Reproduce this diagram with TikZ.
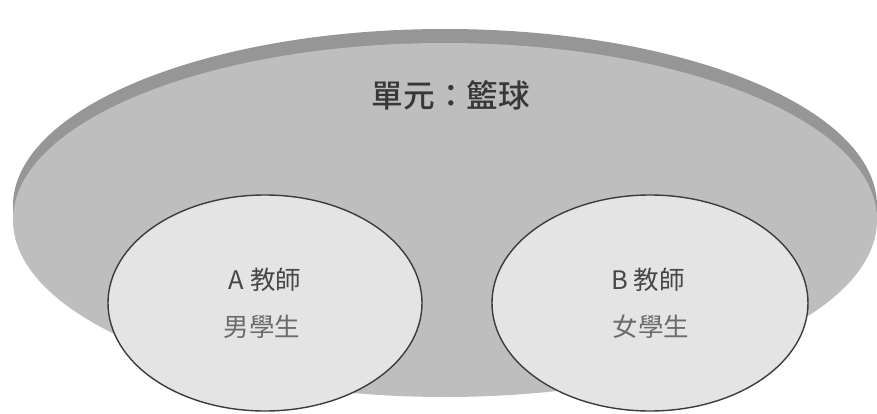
\documentclass[tikz,border=0pt]{standalone}
\usepackage{fontspec}
\newfontfamily\cjk{Noto Sans CJK TC}
\newfontfamily\cjkmed{Noto Sans CJK TC Medium}
\usetikzlibrary{shapes.geometric,positioning}
\definecolor{rimgray}{RGB}{150,150,150}
\definecolor{facegray}{RGB}{190,190,190}
\definecolor{ovalfill}{RGB}{228,228,228}
\definecolor{ovalline}{RGB}{60,60,60}
\tikzset{disc/.style={ellipse, draw=none, inner sep=0pt,
                      minimum width=17.28cm, minimum height=7.08cm},
         teacher/.style={ellipse, draw=ovalline, line width=0.8pt, fill=ovalfill,
                         inner sep=0pt, minimum height=4.32cm},
         unittext/.style={font=\cjkmed\fontsize{18}{20}\selectfont, text=black!78},
         nametext/.style={font=\cjk\fontsize{14.5}{16}\selectfont, text=black!72},
         grouptext/.style={font=\cjk\fontsize{14.5}{16}\selectfont, text=black!58}
}

\begin{document}
\begin{tikzpicture}
  \useasboundingbox (0,0) rectangle (17.54,-8.28);
  % the unit disc
  \node[disc, fill=rimgray]  (rim)  at (8.90,-4.12) {};
  \node[disc, fill=facegray] (face) at (8.90,-4.40) {};
  \node[unittext] (unit) at (9.02,-1.90) {單元：籃球};
  % the two teachers
  \node[teacher, minimum width=6.28cm] (A) at (5.30,-6.06) {};
  \node[teacher, minimum width=6.32cm] (B) at (13.00,-6.06) {};
  \node[nametext]  (tA) at (5.30,-5.60) {A 教師};
  \node[grouptext] (gA) at (5.24,-6.54) {男學生};
  \node[nametext]  (tB) at (12.96,-5.60) {B 教師};
  \node[grouptext] (gB) at (13.02,-6.54) {女學生};
\end{tikzpicture}
\end{document}
